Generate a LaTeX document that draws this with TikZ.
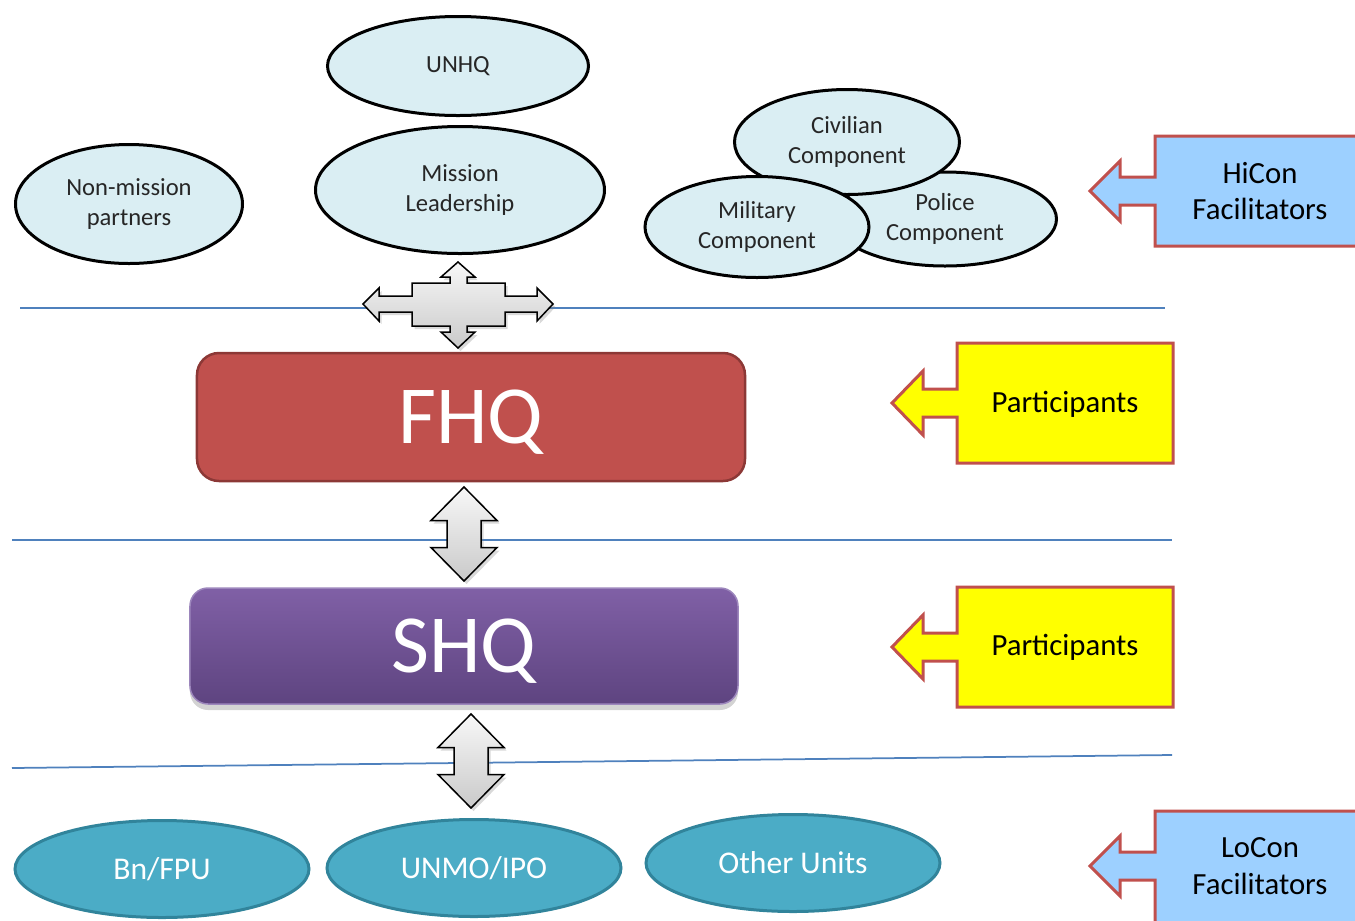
\documentclass[tikz,border=0pt]{standalone}
\usepackage{fontspec}
\setmainfont{Carlito}
\usetikzlibrary{shapes.geometric,shadows}
\definecolor{ellfill}{HTML}{DAEEF3}
\definecolor{unitfill}{HTML}{4BACC6}
\definecolor{unitline}{HTML}{31849B}
\definecolor{fhqfill}{HTML}{C0504D}
\definecolor{fhqline}{HTML}{8C3836}
\definecolor{shqtop}{HTML}{8060A6}
\definecolor{shqbot}{HTML}{5E4480}
\definecolor{shqline}{HTML}{9C86BC}
\definecolor{sepline}{HTML}{4F81BD}
\definecolor{conblue}{HTML}{9DD0FF}
\definecolor{conline}{HTML}{C0504D}
\definecolor{partyellow}{HTML}{FFFF00}
\tikzset{
  lightell/.style={ellipse,draw=black,line width=0.6mm,fill=ellfill,inner sep=0pt,
    align=center,text=black!85,font=\fontsize{14}{17}\selectfont},
  unitell/.style={ellipse,draw=unitline,line width=0.6mm,fill=unitfill,inner sep=0pt,
    text=white,font=\fontsize{18}{22}\selectfont,minimum width=58.8mm,minimum height=19.4mm},
  hqbox/.style={rectangle,text=white,font=\fontsize{47}{56}\selectfont,minimum width=109.6mm,text depth=0pt},
  callout/.style={line width=0.6mm,draw=conline},
  calltext/.style={align=center,text=black,font=\fontsize{17.5}{21}\selectfont},
  blockarrow/.style={draw=black,line width=0.3mm,top color=gray!6,bottom color=gray!42,
    drop shadow={opacity=0.3,shadow xshift=0.5mm,shadow yshift=-0.6mm}},
  vdarrow/.pic={\path[blockarrow] (0,-47) -- (33,-13.5) -- (17,-13.5) -- (17,13.5) -- (33,13.5)
    -- (0,47) -- (-33,13.5) -- (-17,13.5) -- (-17,-13.5) -- (-33,-13.5) -- cycle;}
}
\begin{document}
\begin{tikzpicture}[x=0.2mm,y=-0.2mm]
%\draw[help lines,step=100] (0,0) grid (1355,920);
\useasboundingbox (0,0) rectangle (1355,920);
\clip (0,0) rectangle (1355,920);
\draw[sepline,line width=0.35mm] (20,308) -- (1165,308);
\draw[sepline,line width=0.35mm] (12,540) -- (1172,540);
\draw[sepline,line width=0.35mm] (12,768) -- (1172,755);
\path (458,66) node(unhq) [lightell,minimum width=52.2mm,minimum height=19.8mm] {UNHQ}
(460,190) node(lead) [lightell,minimum width=57.8mm,minimum height=25.4mm] {Mission\\Leadership}
(129,204) node(nonmis) [lightell,minimum width=45.4mm,minimum height=23.8mm] {Non-mission\\partners}
(945,219) node(police) [lightell,minimum width=44.6mm,minimum height=18.8mm] {Police\\Component}
(847,142) node(civil) [lightell,minimum width=45mm,minimum height=21mm] {Civilian\\Component}
(757,227) node(milit) [lightell,minimum width=44.8mm,minimum height=20.2mm] {Military\\Component};
\node(fhq) [hqbox,fill=fhqfill,draw=fhqline,line width=0.5mm,rounded corners=4.4mm,minimum height=25.6mm] at (471,417) {FHQ};
\node(shq) [hqbox,top color=shqtop,bottom color=shqbot,draw=shqline,line width=0.3mm,rounded corners=3.6mm,
  minimum height=23.2mm,drop shadow={opacity=0.35,shadow xshift=0mm,shadow yshift=-1.2mm}] at (464,646) {SHQ};
\path (162,869) node(bnfpu) [unitell] {Bn/FPU}
(474,868) node(unmo) [unitell] {UNMO/IPO}
(793,863) node(other) [unitell] {Other Units};
% block arrows
\path[blockarrow] (458,262) -- (475,277) -- (467,277) -- (467,283) -- (505,283) -- (505,296) -- (537,296)
  -- (537,288) -- (553,304) -- (537,321) -- (537,312) -- (505,312) -- (505,326) -- (467,326) -- (467,332)
  -- (475,332) -- (458,348) -- (441,332) -- (450,332) -- (450,326) -- (412,326) -- (412,312) -- (379,312)
  -- (379,321) -- (363,304) -- (379,288) -- (379,296) -- (412,296) -- (412,283) -- (450,283) -- (450,277)
  -- (441,277) -- cycle;
\pic at (464,534) {vdarrow};
\pic at (471,761) {vdarrow};
% callouts
\draw[callout,fill=conblue] (1155,136) -- ++(210,0) -- ++(0,110) -- ++(-210,0) -- ++(0,-41) -- ++(-35,0)
  -- ++(0,16) -- ++(-30,-30) -- ++(30,-30) -- ++(0,16) -- ++(35,0) -- cycle;
\draw[callout,fill=partyellow] (957,343) -- ++(216,0) -- ++(0,120) -- ++(-216,0) -- ++(0,-46) -- ++(-34,0)
  -- ++(0,18) -- ++(-31,-32) -- ++(31,-32) -- ++(0,18) -- ++(34,0) -- cycle;
\draw[callout,fill=partyellow] (957,587) -- ++(216,0) -- ++(0,120) -- ++(-216,0) -- ++(0,-46) -- ++(-34,0)
  -- ++(0,18) -- ++(-31,-32) -- ++(31,-32) -- ++(0,18) -- ++(34,0) -- cycle;
\draw[callout,fill=conblue] (1155,811) -- ++(210,0) -- ++(0,120) -- ++(-210,0) -- ++(0,-51) -- ++(-35,0)
  -- ++(0,16) -- ++(-30,-30) -- ++(30,-30) -- ++(0,16) -- ++(35,0) -- cycle;
\path (1260,191) node(hicon) [calltext] {HiCon\\Facilitators}
(1065,404) node(part1) [calltext] {Participants}
(1065,647) node(part2) [calltext] {Participants}
(1260,866) node(locon) [calltext] {LoCon\\Facilitators};
\end{tikzpicture}
\end{document}
